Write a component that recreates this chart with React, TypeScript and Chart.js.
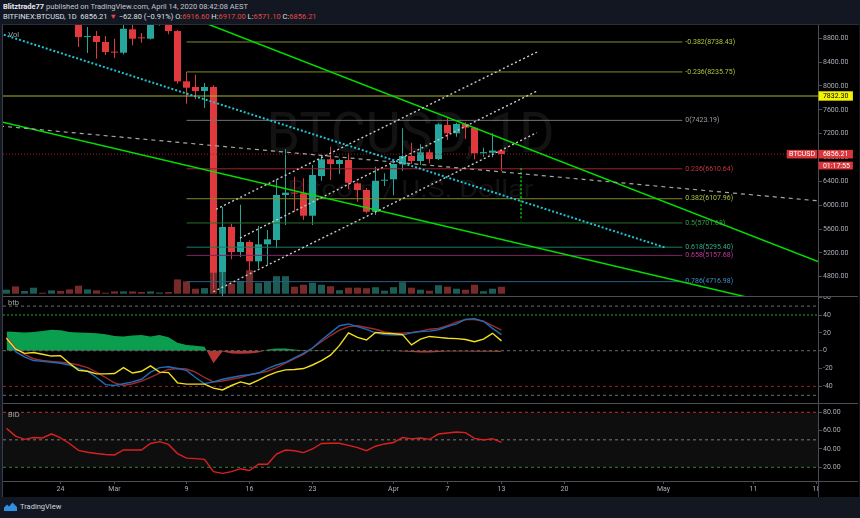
import React, { useEffect, useRef } from "react";
import { Chart, registerables } from "chart.js";

Chart.register(...registerables);

// ---------------- data ----------------
const DATES = [
  "Feb 18", "Feb 19", "Feb 20", "Feb 21", "Feb 22", "Feb 23", "Feb 24", "Feb 25", "Feb 26", "Feb 27", "Feb 28", "Feb 29",
  "Mar 1", "Mar 2", "Mar 3", "Mar 4", "Mar 5", "Mar 6", "Mar 7", "Mar 8", "Mar 9", "Mar 10", "Mar 11", "Mar 12", "Mar 13",
  "Mar 14", "Mar 15", "Mar 16", "Mar 17", "Mar 18", "Mar 19", "Mar 20", "Mar 21", "Mar 22", "Mar 23", "Mar 24", "Mar 25",
  "Mar 26", "Mar 27", "Mar 28", "Mar 29", "Mar 30", "Mar 31",
  "Apr 1", "Apr 2", "Apr 3", "Apr 4", "Apr 5", "Apr 6", "Apr 7", "Apr 8", "Apr 9", "Apr 10", "Apr 11", "Apr 12", "Apr 13",
];

const OPEN = [9700, 10180, 9600, 9610, 9690, 9660, 9960, 9660, 9310, 8820, 8839, 8738, 8575, 8558, 8951, 8810, 8793, 9070, 9150, 8922, 8078, 7983, 7916, 7983, 4878, 5634, 5214, 5382, 5058, 5343, 5416, 6171, 6210, 6199, 5823, 6489, 6770, 6691, 6758, 6367, 6255, 5890, 6410, 6434, 6686, 6825, 6741, 6887, 6775, 7345, 7206, 7362, 7300, 6870, 6880, 6916.6];
const HIGH = [10250, 10250, 9700, 9760, 9700, 9980, 10000, 9670, 9380, 8990, 8922, 8839, 8793, 9050, 9180, 8889, 9180, 9170, 9200, 8940, 8235, 8189, 8050, 8011, 5970, 5689, 6008, 5410, 5650, 5583, 6434, 6937, 6478, 6451, 6674, 6825, 6981, 6780, 6870, 6380, 6290, 6645, 6535, 6700, 7290, 7048, 7021, 6937, 7374, 7458, 7384, 7390, 7310, 6964, 7206, 6917];
const LOW = [9600, 9300, 9400, 9570, 9580, 9650, 9500, 9250, 8654, 8553, 8458, 8520, 8470, 8532, 8683, 8726, 8780, 9010, 8867, 8038, 7703, 7776, 7630, 4598, 3850, 5092, 5130, 4900, 4946, 5000, 5276, 5667, 5890, 5751, 5667, 6410, 6422, 6523, 6266, 6058, 5863, 5835, 6322, 6167, 6578, 6691, 6674, 6702, 6758, 7094, 7149, 7110, 6770, 6813, 6803, 6571.1];
const CLOSE = [10180, 9600, 9610, 9690, 9660, 9960, 9660, 9310, 8820, 8830, 8738, 8570, 8560, 8960, 8793, 8800, 9070, 9150, 8922, 8078, 7971, 7916, 7983, 4867, 5634, 5214, 5382, 5058, 5343, 5427, 6171, 6210, 6195, 5823, 6506, 6770, 6691, 6758, 6377, 6255, 5890, 6410, 6422, 6691, 6825, 6741, 6887, 6775, 7357, 7206, 7362, 7300, 6870, 6890, 6916.6, 6856.21];
// volume, thousand BTC (approx.)
const VOLUME = [4, 7.3, 2.7, 6, 1, 3.3, 2.7, 4.3, 8, 4.3, 3.3, 1, 2.3, 2.3, 2.3, 1.7, 2.3, 1.2, 1.7, 14.3, 12.3, 5, 5.6, 66, 58, 10, 12.8, 23.5, 10.8, 12, 17.5, 17.5, 7, 9, 11, 9, 7.5, 3.5, 6, 6, 5.5, 6.5, 3, 6.5, 11.5, 6, 4, 3, 8.5, 7, 5, 4, 9, 2.5, 5, 7];

const OSC_HIST = [21.5, 21, 20.5, 21, 22, 23.5, 23, 21, 20.5, 20, 19.5, 18.5, 16.5, 16, 17, 17.5, 16, 17.5, 15, 9, 6.5, 5.5, 4.5, -14, -1, -3, -3.5, -3, -2, 1.5, 2.5, 2.5, 1.5, 0.5, 0.5, 0.5, 0.3, 0.2, 0, 0, 0.2, 0.3, 0.2, -0.3, -1, -1.5, -2, -2, -1.5, -1, -1, -1, -1.2, -1.3, -1.3, -1.5];
const OSC_BLUE = [14, -1, -7, -11, -12, -13, -14, -16, -20, -23, -30, -38, -39, -37, -35, -32, -24, -19, -18, -20, -22, -30, -37, -35, -32, -30, -28, -27, -25, -20, -16, -13, -8, -3, 3, 12, 20, 28, 30, 27, 24, 20, 18, 17.5, 17.5, 20, 21.5, 22, 23.5, 27, 30, 35, 36, 33, 25, 18];
const OSC_RED = [15.5, 3, -4, -9, -11, -12, -13, -14, -16, -19, -24, -30, -36, -39, -37, -34, -30, -25, -21, -20, -20.5, -24, -30, -35, -34, -32, -30, -27, -25, -23, -19, -14, -9, -4, 3, 10, 17, 23, 27, 28, 26, 24, 21, 19.5, 19.5, 20.5, 22, 24, 25, 28, 32, 35, 35, 33, 28, 23];
const OSC_YELLOW = [14, 2, -3, -2, -4, -6, -5.5, -14, -22, -23, -26, -26, -25.5, -19, -25, -23, -17, -24, -24.5, -36, -37.5, -37.5, -37.5, -42, -44, -39, -35, -37.5, -33, -28, -24, -21.5, -21, -20, -16, -11, -5, 6, 20, 15, 12, 20.5, 19.5, 19, 18, 6.5, 13, 16, 15, 14, 13.5, 12.5, 10, 13, 19.5, 11];
const BID = [62.5, 54, 50.5, 52.5, 52, 56.5, 52, 46, 38.5, 36.5, 35, 34, 33.5, 38.9, 38.9, 38.9, 46, 48, 45, 35, 30, 29.5, 28.7, 15.3, 13.4, 15.3, 18.5, 16.5, 23.3, 23.3, 34.5, 38.9, 38, 36, 40, 46, 46.2, 46.2, 44, 41.5, 38.2, 43, 45.5, 47, 52.5, 51, 52, 50.5, 56.3, 57.5, 58.5, 57.8, 51.6, 49.8, 51.3, 47.2];

const PRICE_TICKS = [4800, 5200, 5600, 6000, 6400, 6800, 7200, 7600, 8000, 8400, 8800];
const OSC_TICKS = [-40, -20, 0, 20, 40, 60];
const BID_TICKS = [20, 40, 60, 80];
const TIME_TICK_INDEX = [6, 12, 20, 27, 34, 43, 49, 55, 62, 73, 83, 90];
const TIME_TICK_LABELS = ["24", "Mar", "9", "16", "23", "Apr", "7", "13", "20", "May", "11", "18"];

const FIB_RATIOS = [-0.382, -0.236, 0, 0.236, 0.382, 0.5, 0.618, 0.658, 0.786];
const FIB_PRICES = [8738.43, 8235.75, 7423.19, 6610.64, 6107.96, 5701.68, 5295.4, 5157.68, 4716.98];
const FIB_START_INDEX = 20;
const FIB_END_INDEX = 75.1;
const FIB_LABEL_INDEX = 75.42;

const HLINE_PRICE = 7832.3;
const LAST_PRICE = 6856.21;
const COUNTDOWN = "01:17:55";
const SYMBOL = "BTCUSD";

// trendlines: [day index, price]
const UPPER_GREEN = [[21.2, 9107], [90.17, 5055]];
const LOWER_GREEN = [[-0.72, 7402], [90.17, 4177]];
const CYAN_DOTTED = [[-0.72, 8880], [73.17, 5290]];
const GRAY_DASHED = [[-0.72, 7328], [90.17, 6073]];
const CHANNEL_UPPER = [[23.28, 5931], [58.94, 8570]];
const CHANNEL_MID = [[25.94, 5449], [58.94, 7916]];
const CHANNEL_LOWER = [[22.98, 4548], [58.91, 7216]];
const GREEN_VERTICAL = [[57.17, 6619], [57.17, 5780]];

const OSC_LEVELS = [50, 40, 0, -40, -50];
const BID_LEVELS = [80, 50, 20];

const WATERMARK_TITLE = "BTCUSD, 1D";
const WATERMARK_SUBTITLE = "Bitcoin / U.S. Dollar";

// ---------------- style / layout ----------------
const FONT = "Roboto, 'Noto Sans', sans-serif";
const BG = "#131722";
const SEP = "#4a4d56";
const TICK_TEXT = "#a9acb5";
const UP = "#26a69a";
const DOWN = "#e0393e";
const VOL_UP = "#1b5d56";
const VOL_DOWN = "#772a2a";
const AXIS_W = 40;
const CANVAS_LEFT = 3;
const CANVAS_W = 855;
const MAIN_TOP = 25, MAIN_H = 271;
const OSC_TOP = 297, OSC_H = 106;
const BID_TOP = 404, BID_H = 93, TIME_AXIS_H = 16;
const X_MIN = -0.389, X_MAX = 90.167;
const PRICE_MIN = 4476.2, PRICE_MAX = 9023.2;
const VOL_MIN = -2.3, VOL_MAX = 268.7;
const OSC_MIN = -58.6, OSC_MAX = 60.2;
const BID_MIN = 5.08, BID_MAX = 89.05;

const FIB_LINE_COLORS = ["#7f8c2a", "#7f8c2a", "#6f727b", "#9c2228", "#7f8c2a", "#27702c", "#1d7a66", "#7e2462", "#285f86"];
const FIB_TEXT_COLORS = ["#b3c23c", "#b3c23c", "#9a9ca5", "#c4343a", "#b3c23c", "#37a048", "#35ad8c", "#c7399a", "#3d8fc4"];
const OSC_LEVEL_STYLE = [
  { c: "#6c6c6c", d: [3, 3], w: 1 },
  { c: "#1d6b22", d: [2, 2], w: 1.5 },
  { c: "#6c6c6c", d: [3, 3], w: 1 },
  { c: "#9a2222", d: [3, 3], w: 1 },
  { c: "#6c6c6c", d: [3, 3], w: 1 },
];
const BID_LEVEL_STYLE = [
  { c: "#c62828", d: [3, 3] },
  { c: "#707070", d: [3, 3] },
  { c: "#2e7d32", d: [3, 3] },
];

const idx = DATES.map((_, i) => i);

function line(pts: number[][], color: string, width: number, dash: number[], order: number, extra: any = {}) {
  return {
    type: "line",
    data: pts.map(([x, y]) => ({ x, y })),
    borderColor: color,
    borderWidth: width,
    borderDash: dash,
    pointRadius: 0,
    fill: false,
    tension: 0,
    order,
    ...extra,
  };
}

function series(vals: number[], color: string, width: number, order: number, extra: any = {}) {
  return line(idx.map((i) => [i, vals[i]]), color, width, [], order, extra);
}

function rightAxis(min: number, max: number, ticks: number[], fmt: (v: number) => string) {
  return {
    type: "linear",
    position: "right",
    min,
    max,
    afterBuildTicks: (a: any) => {
      a.ticks = ticks.map((v) => ({ value: v }));
    },
    afterFit: (a: any) => {
      a.width = AXIS_W;
      a.paddingTop = 0;
      a.paddingBottom = 0;
    },
    grid: { display: true, drawOnChartArea: false, drawTicks: true, tickLength: 4, color: SEP },
    border: { display: true, color: SEP },
    ticks: {
      autoSkip: false,
      color: TICK_TEXT,
      padding: 1,
      font: { family: FONT, size: 7 },
      callback: (v: any) => fmt(Number(v)),
    },
  };
}

const hiddenX = { type: "linear", min: X_MIN, max: X_MAX, display: false, offset: false };

const baseOptions = {
  animation: false,
  responsive: false,
  maintainAspectRatio: false,
  devicePixelRatio: 1,
  events: [],
  layout: { padding: 0, autoPadding: false },
  plugins: { legend: { display: false }, tooltip: { enabled: false } },
};

function fitText(ctx: CanvasRenderingContext2D, text: string, cx: number, baseline: number, size: number, width: number) {
  ctx.font = `${size}px ${FONT}`;
  const w = ctx.measureText(text).width;
  ctx.save();
  ctx.translate(cx, baseline);
  ctx.scale(width / w, 1);
  ctx.textAlign = "center";
  ctx.textBaseline = "alphabetic";
  ctx.fillText(text, 0, 0);
  ctx.restore();
}

const watermarkPlugin = {
  id: "watermark",
  beforeDatasetsDraw(chart: any) {
    const { ctx, chartArea: a } = chart;
    const cx = (a.left + a.right) / 2;
    const cy = (a.top + a.bottom) / 2;
    ctx.save();
    ctx.fillStyle = "rgba(255,255,255,0.075)";
    fitText(ctx, WATERMARK_TITLE, cx, cy - 8.8, 56, 288);
    fitText(ctx, WATERMARK_SUBTITLE, cx, cy + 36.5, 24, 246);
    ctx.restore();
  },
};

const fibLabelPlugin = {
  id: "fibLabels",
  afterDatasetsDraw(chart: any) {
    const { ctx, scales } = chart;
    const x = scales.x.getPixelForValue(FIB_LABEL_INDEX);
    ctx.save();
    ctx.font = `7px ${FONT}`;
    ctx.textBaseline = "middle";
    ctx.textAlign = "left";
    FIB_PRICES.forEach((p, k) => {
      ctx.fillStyle = FIB_TEXT_COLORS[k];
      ctx.fillText(`${FIB_RATIOS[k]}(${p.toFixed(2)})`, x, scales.y.getPixelForValue(p));
    });
    ctx.restore();
  },
};

function drawBox(ctx: CanvasRenderingContext2D, x: number, yc: number, w: number, h: number, bg: string, fg: string, text: string, center: boolean) {
  ctx.fillStyle = bg;
  ctx.fillRect(x, yc - h / 2, w, h);
  ctx.fillStyle = fg;
  ctx.textBaseline = "middle";
  ctx.textAlign = center ? "center" : "left";
  ctx.fillText(text, center ? x + w / 2 : x + 4.4, yc + 0.3);
}

const priceBoxPlugin = {
  id: "priceBoxes",
  afterDraw(chart: any) {
    const { ctx, chartArea, scales } = chart;
    const ax = chartArea.right;
    ctx.save();
    ctx.font = `7px ${FONT}`;
    const yy = scales.y.getPixelForValue(HLINE_PRICE);
    drawBox(ctx, ax + 0.5, yy, 34.4, 9.4, "#f4f400", "#000", HLINE_PRICE.toFixed(2), false);
    const yl = scales.y.getPixelForValue(LAST_PRICE);
    drawBox(ctx, ax + 0.5, yl, 34.4, 8.6, "#d9363b", "#fff", LAST_PRICE.toFixed(2), false);
    drawBox(ctx, ax + 0.5, yl + 11.4, 34.4, 7.8, "#d9363b", "#fff", COUNTDOWN, false);
    drawBox(ctx, ax - 31.3, yl, 30.6, 8.6, "#d9363b", "#fff", SYMBOL, true);
    ctx.restore();
  },
};

function paneTitle(text: string, dx: number, dy: number) {
  return {
    id: "paneTitle",
    afterDraw(chart: any) {
      const { ctx, chartArea } = chart;
      ctx.save();
      ctx.font = `7.5px ${FONT}`;
      ctx.fillStyle = "#a4a7af";
      ctx.textBaseline = "middle";
      ctx.textAlign = "left";
      ctx.fillText(text, chartArea.left + dx, chartArea.top + dy);
      ctx.restore();
    },
  };
}

const axisCornerPlugin = {
  id: "axisCorner",
  afterDraw(chart: any) {
    const { ctx, chartArea, width, height } = chart;
    ctx.save();
    ctx.fillStyle = "#000";
    ctx.fillRect(chartArea.right + 0.5, chartArea.bottom + 0.5, width - chartArea.right, height - chartArea.bottom);
    ctx.strokeStyle = SEP;
    ctx.lineWidth = 1;
    ctx.beginPath();
    ctx.moveTo(chartArea.right + 0.5, chartArea.bottom);
    ctx.lineTo(chartArea.right + 0.5, height);
    ctx.moveTo(chartArea.right, chartArea.bottom + 0.5);
    ctx.lineTo(width, chartArea.bottom + 0.5);
    ctx.stroke();
    ctx.restore();
  },
};

function mainConfig(): any {
  const isUp = idx.map((i) => CLOSE[i] >= OPEN[i]);
  const candleColor = isUp.map((u) => (u ? UP : DOWN));
  const datasets: any[] = [
    {
      type: "bar",
      yAxisID: "vol",
      data: idx.map((i) => ({ x: i, y: VOLUME[i] })),
      backgroundColor: isUp.map((u) => (u ? VOL_UP : VOL_DOWN)),
      barThickness: 7,
      grouped: false,
      inflateAmount: 0,
      order: 30,
    },
    {
      type: "bar",
      yAxisID: "y",
      data: idx.map((i) => ({ x: i, y: [LOW[i], HIGH[i]] })),
      backgroundColor: candleColor,
      barThickness: 1,
      grouped: false,
      inflateAmount: 0,
      order: 3,
    },
    {
      type: "bar",
      yAxisID: "y",
      data: idx.map((i) => ({ x: i, y: [Math.min(OPEN[i], CLOSE[i]), Math.max(OPEN[i], CLOSE[i])] })),
      backgroundColor: candleColor,
      barThickness: 7,
      minBarLength: 1,
      grouped: false,
      inflateAmount: 0,
      order: 2,
    },
  ];
  FIB_PRICES.forEach((p, k) => datasets.push(line([[FIB_START_INDEX, p], [FIB_END_INDEX, p]], FIB_LINE_COLORS[k], 1, [], 1, { yAxisID: "y" })));
  datasets.push(line([[X_MIN, HLINE_PRICE], [X_MAX, HLINE_PRICE]], "#b4b42e", 1.2, [], 1, { yAxisID: "y" }));
  datasets.push(line([[X_MIN, LAST_PRICE], [X_MAX, LAST_PRICE]], "#a51d1d", 1, [1, 2], 1, { yAxisID: "y" }));
  datasets.push(line(GRAY_DASHED, "#a6a6a6", 1.2, [4, 4], 0, { yAxisID: "y" }));
  datasets.push(line(CYAN_DOTTED, "#1fc3d2", 2, [2, 2], 0, { yAxisID: "y" }));
  datasets.push(line(CHANNEL_UPPER, "#c9c9c9", 1.4, [2, 2.5], 0, { yAxisID: "y" }));
  datasets.push(line(CHANNEL_MID, "#c9c9c9", 1.4, [2, 2.5], 0, { yAxisID: "y" }));
  datasets.push(line(CHANNEL_LOWER, "#c9c9c9", 1.4, [2, 2.5], 0, { yAxisID: "y" }));
  datasets.push(line(UPPER_GREEN, "#00e000", 1.5, [], 0, { yAxisID: "y" }));
  datasets.push(line(LOWER_GREEN, "#00e000", 1.5, [], 0, { yAxisID: "y" }));
  datasets.push(line(GREEN_VERTICAL, "#00d000", 1.5, [2, 2], 0, { yAxisID: "y" }));
  return {
    type: "bar",
    data: { datasets },
    options: {
      ...baseOptions,
      scales: {
        x: hiddenX,
        y: rightAxis(PRICE_MIN, PRICE_MAX, PRICE_TICKS, (v) => v.toFixed(2)),
        vol: { type: "linear", display: false, min: VOL_MIN, max: VOL_MAX },
      },
    },
    plugins: [watermarkPlugin, fibLabelPlugin, priceBoxPlugin, paneTitle("Vol", 5.3, 10)],
  };
}

function oscConfig(): any {
  const datasets: any[] = [
    series(OSC_HIST, "rgba(0,0,0,0)", 0, 20, {
      fill: { target: "origin", above: "#0b9e4e", below: "#b83535" },
    }),
  ];
  OSC_LEVELS.forEach((v, k) =>
    datasets.push(line([[X_MIN, v], [X_MAX, v]], OSC_LEVEL_STYLE[k].c, OSC_LEVEL_STYLE[k].w, OSC_LEVEL_STYLE[k].d, 10))
  );
  datasets.push(series(OSC_RED, "#a02a2e", 1.4, 3));
  datasets.push(series(OSC_BLUE, "#1f6cb8", 1.4, 2));
  datasets.push(series(OSC_YELLOW, "#f2e01c", 1.4, 1));
  return {
    type: "line",
    data: { datasets },
    options: {
      ...baseOptions,
      scales: {
        x: hiddenX,
        y: rightAxis(OSC_MIN, OSC_MAX, OSC_TICKS, (v) => String(v)),
      },
    },
    plugins: [paneTitle("btb", 5, 6.5)],
  };
}

function bidConfig(): any {
  const datasets: any[] = [];
  BID_LEVELS.forEach((v, k) =>
    datasets.push(
      line([[X_MIN, v], [X_MAX, v]], BID_LEVEL_STYLE[k].c, 1, BID_LEVEL_STYLE[k].d, 10,
        k === 0 ? { fill: { target: 2 }, backgroundColor: "rgba(255,255,255,0.055)" } : {})
    )
  );
  datasets.push(series(BID, "#dd1f1f", 1.4, 1));
  return {
    type: "line",
    data: { datasets },
    options: {
      ...baseOptions,
      scales: {
        x: {
          type: "linear",
          position: "bottom",
          min: X_MIN,
          max: X_MAX,
          offset: false,
          afterBuildTicks: (a: any) => {
            a.ticks = TIME_TICK_INDEX.map((v) => ({ value: v }));
          },
          afterFit: (a: any) => {
            a.height = TIME_AXIS_H;
            a.paddingLeft = 0;
            a.paddingRight = 0;
          },
          grid: { display: true, drawOnChartArea: false, drawTicks: true, tickLength: 3, color: SEP },
          border: { display: true, color: SEP },
          ticks: {
            autoSkip: false,
            maxRotation: 0,
            minRotation: 0,
            padding: 1,
            color: TICK_TEXT,
            font: { family: FONT, size: 7 },
            callback: (_v: any, i: number) => TIME_TICK_LABELS[i],
          },
        },
        y: rightAxis(BID_MIN, BID_MAX, BID_TICKS, (v) => v.toFixed(2)),
      },
    },
    plugins: [paneTitle("BID", 5, 11), axisCornerPlugin],
  };
}

const red = { color: "#e04848" };

export default function App() {
  const mainRef = useRef<HTMLCanvasElement>(null);
  const oscRef = useRef<HTMLCanvasElement>(null);
  const bidRef = useRef<HTMLCanvasElement>(null);

  useEffect(() => {
    const charts = [
      new Chart(mainRef.current as HTMLCanvasElement, mainConfig()),
      new Chart(oscRef.current as HTMLCanvasElement, oscConfig()),
      new Chart(bidRef.current as HTMLCanvasElement, bidConfig()),
    ];
    return () => charts.forEach((c) => c.destroy());
  }, []);

  const cv = (top: number, h: number): React.CSSProperties => ({
    position: "absolute",
    left: CANVAS_LEFT,
    top,
    width: CANVAS_W,
    height: h,
    display: "block",
  });
  const sep = (top: number): React.CSSProperties => ({
    position: "absolute",
    left: CANVAS_LEFT,
    top,
    width: CANVAS_W,
    height: 1,
    background: SEP,
  });

  return (
    <div
      style={{
        position: "fixed",
        left: 0,
        top: 0,
        width: 860,
        height: 518,
        background: BG,
        overflow: "hidden",
        fontFamily: FONT,
        color: "#d1d4dc",
      }}
    >
      <div style={{ position: "absolute", left: 3, top: 2, fontSize: 7.5, lineHeight: "9px", whiteSpace: "nowrap", color: "#c3c6ce" }}>
        <b style={{ color: "#e6e8ee" }}>Blitztrade77</b> published on TradingView.com, April 14, 2020 08:42:08 AEST
      </div>
      <div style={{ position: "absolute", left: 3, top: 12, fontSize: 7.5, lineHeight: "9px", whiteSpace: "nowrap", color: "#dfe1e7" }}>
        BITFINEX:BTCUSD, 1D&nbsp; 6856.21 <span style={red}>▼</span> −62.80 (−0.91%) O:<span style={red}>6916.60</span> H:
        <span style={red}>6917.00</span> L:<span style={red}>6571.10</span> C:<span style={red}>6856.21</span>
      </div>

      <div
        style={{
          position: "absolute",
          left: 2,
          top: 24,
          width: 857,
          height: 473,
          background: "#000",
          borderLeft: "1px solid #3a3e48",
          borderTop: "1px solid #2a2e39",
          boxSizing: "border-box",
        }}
      />
      <canvas ref={mainRef} width={CANVAS_W} height={MAIN_H} style={cv(MAIN_TOP, MAIN_H)} />
      <div style={sep(296)} />
      <canvas ref={oscRef} width={CANVAS_W} height={OSC_H} style={cv(OSC_TOP, OSC_H)} />
      <div style={sep(403)} />
      <canvas ref={bidRef} width={CANVAS_W} height={BID_H} style={cv(BID_TOP, BID_H)} />

      <div style={{ position: "absolute", left: 4, top: 502, display: "flex", alignItems: "center", gap: 3 }}>
        <svg width="13" height="9" viewBox="0 0 13 9">
          <path d="M0 9 L0 5.5 L3 2.5 L5 4.5 L8.5 0.5 L13 5 L13 9 Z" fill="#2f8fe0" />
        </svg>
        <span style={{ fontSize: 7.5, color: "#d1d4dc", lineHeight: "9px" }}>TradingView</span>
      </div>
    </div>
  );
}
